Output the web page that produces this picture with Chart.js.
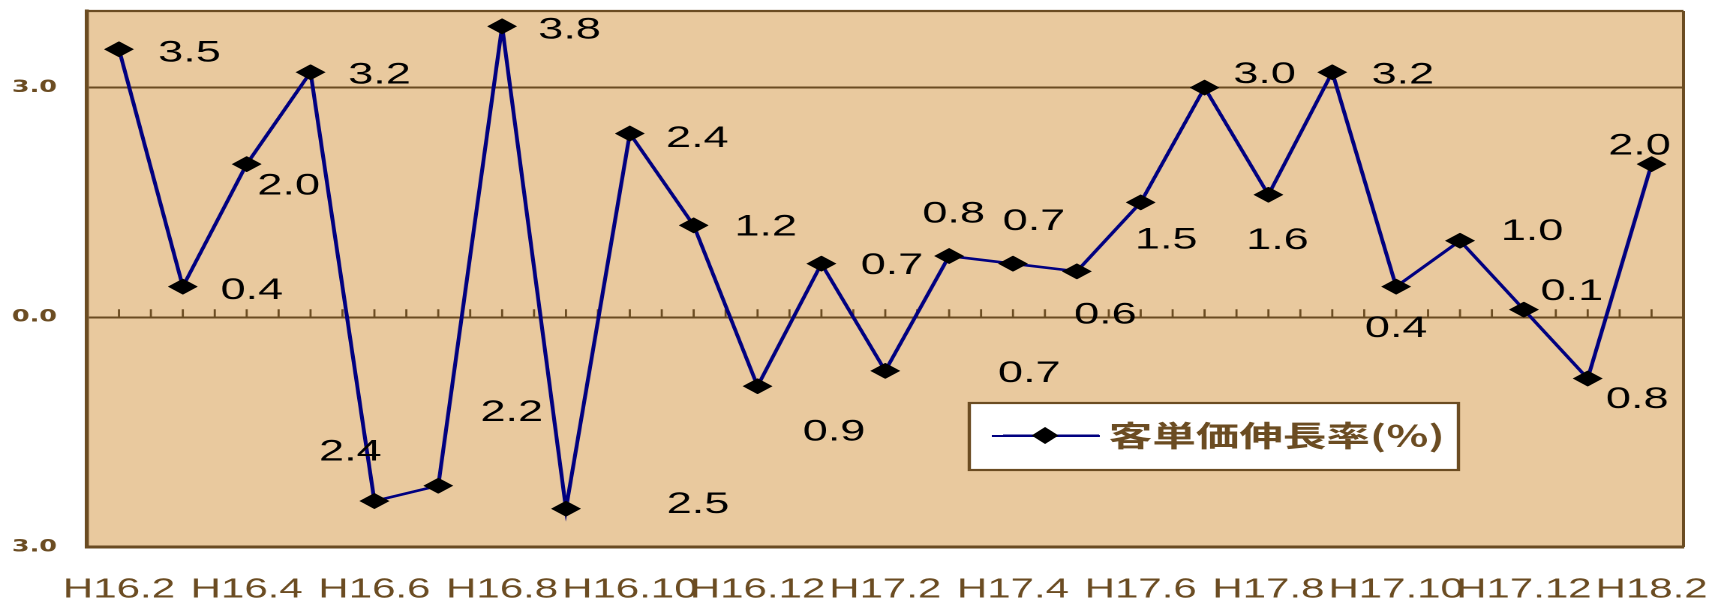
<!DOCTYPE html>
<html>
<head>
<meta charset="utf-8">
<script src="https://cdn.jsdelivr.net/npm/chart.js@4/dist/chart.umd.min.js"></script>
<style>
html, body { margin: 0; padding: 0; background: #ffffff; overflow: hidden; }
</style>
</head>
<body>
<canvas id="c" width="1139" height="598" style="width:1709px;height:598px;display:block"></canvas>
<script>
// ---- data ----
const categories = [
  'H16.2','H16.3','H16.4','H16.5','H16.6','H16.7','H16.8','H16.9','H16.10','H16.11','H16.12',
  'H17.1','H17.2','H17.3','H17.4','H17.5','H17.6','H17.7','H17.8','H17.9','H17.10','H17.11','H17.12',
  'H18.1','H18.2'
];
const growthRate = [3.5, 0.4, 2.0, 3.2, -2.4, -2.2, 3.8, -2.5, 2.4, 1.2, -0.9, 0.7, -0.7, 0.8, 0.7, 0.6, 1.5, 3.0, 1.6, 3.2, 0.4, 1.0, 0.1, -0.8, 2.0];
const yTickValues = [-3, 0, 3];
const seriesName = '客単価伸長率(%)';

// ---- styling (label offsets from each point, in canvas units) ----
const labelOffsets = [
  [47, 4], [46, 4], [28, 22], [46, 3], [-16, -49], [49, -73], [45, 4], [88, -4],
  [45, 5], [48, 2], [51, 46], [47, 2], [96, 3], [3, -42], [14, -42], [19, 44],
  [17, 38], [40, -13], [6, 46], [47, 3], [0, 42], [48, -9], [32, -18], [33, 21], [-8, -18]
];
const BROWN = '#6B4C22';
const PLOT_BG = '#E9C99E';
const NAVY = '#000080';

function svgImage(svg, w, h) {
  const img = new Image(w, h);
  img.src = 'data:image/svg+xml;charset=utf-8,' + encodeURIComponent(svg);
  return img;
}
const diamondImg = svgImage(
  "<svg xmlns='http://www.w3.org/2000/svg' width='20' height='16' viewBox='0 0 20 16'>" +
  "<polygon points='0,8 10,0 20,8 10,16' fill='#000'/></svg>", 20, 16);
const legendImg = svgImage(
  "<svg xmlns='http://www.w3.org/2000/svg' width='72' height='18' viewBox='0 0 72 18'>" +
  "<line x1='0' y1='9' x2='72' y2='9' stroke='" + NAVY + "' stroke-width='2'/>" +
  "<polygon points='27,9 36,0.5 45,9 36,17.5' fill='#000'/></svg>", 72, 18);

const decor = {
  id: 'decor',
  afterLayout(chart) {
    const lg = chart.legend;
    if (!lg) return;
    const w = lg.width, h = lg.height;
    lg.left = 668.5; lg.top = 421;
    lg.right = lg.left + w; lg.bottom = lg.top + h;
  },
  beforeDraw(chart) {
    const { ctx, chartArea: a } = chart;
    ctx.save();
    ctx.fillStyle = PLOT_BG;
    ctx.fillRect(a.left, a.top, a.right - a.left, a.bottom - a.top);
    // legend frame
    ctx.fillStyle = '#ffffff';
    ctx.fillRect(646, 403, 326, 67);
    ctx.strokeStyle = BROWN;
    ctx.lineWidth = 2.2;
    ctx.strokeRect(646, 403, 326, 67);
    // legend symbol line (the legend draws its marker over it)
    ctx.strokeStyle = NAVY;
    ctx.lineWidth = 2;
    ctx.beginPath();
    ctx.moveTo(661, 436); ctx.lineTo(733, 436);
    ctx.stroke();
    ctx.restore();
  },
  beforeDatasetsDraw(chart) {
    const { ctx, chartArea: a, scales } = chart;
    const xs = scales.x, ys = scales.y;
    ctx.save();
    ctx.strokeStyle = BROWN;
    ctx.lineWidth = 2.2;
    ctx.beginPath();
    ctx.moveTo(a.left, a.top); ctx.lineTo(a.right, a.top);
    ctx.stroke();
    ctx.lineWidth = 2;
    ctx.beginPath();
    ctx.moveTo(a.right, a.top); ctx.lineTo(a.right, a.bottom);
    ctx.stroke();
    // minor tick marks on the zero line
    const y0 = ys.getPixelForValue(0);
    ctx.lineWidth = 1.4;
    ctx.beginPath();
    for (let k = 0; k <= (categories.length - 1) * 2; k++) {
      const px = xs.getPixelForValue(k / 2);
      ctx.moveTo(px, y0);
      ctx.lineTo(px, y0 - 8);
    }
    ctx.stroke();
    ctx.restore();
  },
  afterDatasetsDraw(chart) {
    const { ctx } = chart;
    const meta = chart.getDatasetMeta(0);
    ctx.save();
    ctx.font = '30px "Liberation Sans", Arial, sans-serif';
    ctx.fillStyle = '#000000';
    ctx.textAlign = 'center';
    ctx.textBaseline = 'middle';
    meta.data.forEach((pt, i) => {
      const off = labelOffsets[i];
      ctx.fillText(Math.abs(growthRate[i]).toFixed(1), pt.x + off[0], pt.y + off[1]);
    });
    ctx.restore();
  }
};

Promise.all([diamondImg.decode(), legendImg.decode()]).catch(() => {}).then(() => {
  new Chart(document.getElementById('c'), {
    type: 'line',
    data: {
      labels: categories,
      datasets: [{
        label: seriesName,
        data: growthRate,
        borderColor: NAVY,
        backgroundColor: '#000000',
        borderWidth: 2.6,
        pointStyle: diamondImg,
        pointRadius: 8,
        pointHoverRadius: 8,
        tension: 0,
        fill: false,
        clip: false
      }]
    },
    options: {
      responsive: false,
      maintainAspectRatio: false,
      devicePixelRatio: 2,
      animation: false,
      events: [],
      layout: { padding: { left: 0, right: 17, top: 11, bottom: 0 } },
      scales: {
        x: {
          offset: true,
          grid: { display: false },
          border: { display: true, color: BROWN, width: 3 },
          ticks: {
            autoSkip: false, maxRotation: 0, minRotation: 0, padding: 18,
            color: BROWN,
            font: { family: '"Liberation Sans", Arial, sans-serif', size: 28 },
            callback: (v, i) => (i % 2 === 0 ? categories[i] : '')
          },
          afterFit: s => { s.height = 51; s.paddingLeft = 0; s.paddingRight = 0; }
        },
        y: {
          min: -3, max: 4,
          afterBuildTicks: s => { s.ticks = yTickValues.map(v => ({ value: v })); },
          afterFit: s => { s.width = 58; s.paddingTop = 0; s.paddingBottom = 0; },
          grid: { color: BROWN, lineWidth: 2, drawTicks: false },
          border: { display: true, color: BROWN, width: 2.7 },
          ticks: {
            padding: 20, color: BROWN,
            font: { family: '"DejaVu Sans", sans-serif', size: 17, weight: 'bold' },
            callback: v => Math.abs(v).toFixed(1)
          }
        }
      },
      plugins: {
        tooltip: { enabled: false },
        legend: {
          display: true,
          position: 'chartArea',
          align: 'start',
          labels: {
            usePointStyle: true,
            pointStyleWidth: 56,
            padding: 0,
            color: BROWN,
            font: { family: '"Noto Sans CJK JP", sans-serif', size: 29, weight: 'bold' },
            generateLabels: chart => {
              const items = Chart.defaults.plugins.legend.labels.generateLabels(chart);
              items.forEach(it => { it.pointStyle = legendImg; it.fontColor = BROWN; });
              return items;
            }
          }
        }
      }
    },
    plugins: [decor]
  });
});
</script>
</body>
</html>
